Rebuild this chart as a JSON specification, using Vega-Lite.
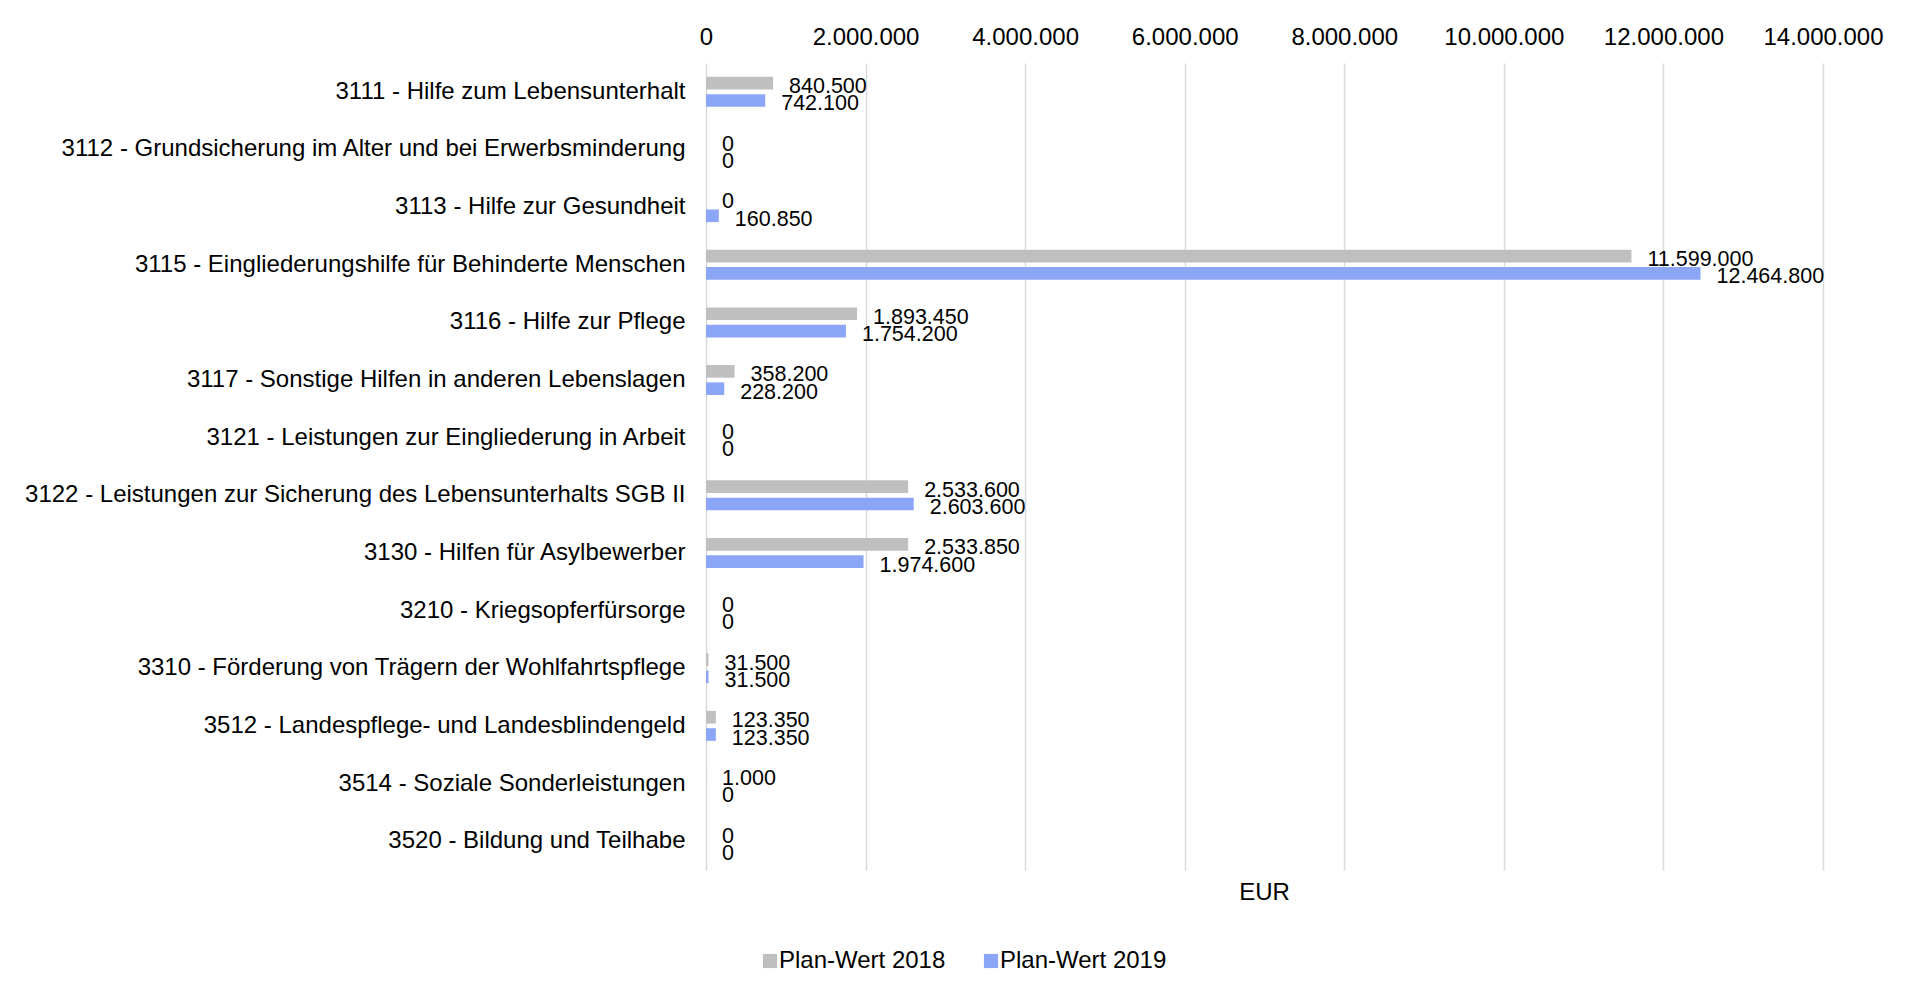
{
  "$schema": "https://vega.github.io/schema/vega-lite/v6.json",
  "width": 1117,
  "height": 807,
  "autosize": {"type": "none"},
  "padding": {"left": 706, "top": 63, "right": 89, "bottom": 120},
  "background": "white",
  "title": {"text": "EUR", "orient": "bottom", "anchor": "middle", "frame": "group", "fontSize": 24, "fontWeight": "normal", "font": "Liberation Sans", "color": "#000000", "offset": -92},
  "config": {
    "locale": {"number": {"decimal": ",", "thousands": ".", "grouping": [3], "currency": ["", " €"]}},
    "view": {"stroke": null},
    "font": "Liberation Sans"
  },
  "data": {
    "values": [
      {"kategorie": "3111 - Hilfe zum Lebensunterhalt", "serie": "Plan-Wert 2018", "wert": 840500},
      {"kategorie": "3111 - Hilfe zum Lebensunterhalt", "serie": "Plan-Wert 2019", "wert": 742100},
      {"kategorie": "3112 - Grundsicherung im Alter und bei Erwerbsminderung", "serie": "Plan-Wert 2018", "wert": 0},
      {"kategorie": "3112 - Grundsicherung im Alter und bei Erwerbsminderung", "serie": "Plan-Wert 2019", "wert": 0},
      {"kategorie": "3113 - Hilfe zur Gesundheit", "serie": "Plan-Wert 2018", "wert": 0},
      {"kategorie": "3113 - Hilfe zur Gesundheit", "serie": "Plan-Wert 2019", "wert": 160850},
      {"kategorie": "3115 - Eingliederungshilfe für Behinderte Menschen", "serie": "Plan-Wert 2018", "wert": 11599000},
      {"kategorie": "3115 - Eingliederungshilfe für Behinderte Menschen", "serie": "Plan-Wert 2019", "wert": 12464800},
      {"kategorie": "3116 - Hilfe zur Pflege", "serie": "Plan-Wert 2018", "wert": 1893450},
      {"kategorie": "3116 - Hilfe zur Pflege", "serie": "Plan-Wert 2019", "wert": 1754200},
      {"kategorie": "3117 - Sonstige Hilfen in anderen Lebenslagen", "serie": "Plan-Wert 2018", "wert": 358200},
      {"kategorie": "3117 - Sonstige Hilfen in anderen Lebenslagen", "serie": "Plan-Wert 2019", "wert": 228200},
      {"kategorie": "3121 - Leistungen zur Eingliederung in Arbeit", "serie": "Plan-Wert 2018", "wert": 0},
      {"kategorie": "3121 - Leistungen zur Eingliederung in Arbeit", "serie": "Plan-Wert 2019", "wert": 0},
      {"kategorie": "3122 - Leistungen zur Sicherung des Lebensunterhalts SGB II", "serie": "Plan-Wert 2018", "wert": 2533600},
      {"kategorie": "3122 - Leistungen zur Sicherung des Lebensunterhalts SGB II", "serie": "Plan-Wert 2019", "wert": 2603600},
      {"kategorie": "3130 - Hilfen für Asylbewerber", "serie": "Plan-Wert 2018", "wert": 2533850},
      {"kategorie": "3130 - Hilfen für Asylbewerber", "serie": "Plan-Wert 2019", "wert": 1974600},
      {"kategorie": "3210 - Kriegsopferfürsorge", "serie": "Plan-Wert 2018", "wert": 0},
      {"kategorie": "3210 - Kriegsopferfürsorge", "serie": "Plan-Wert 2019", "wert": 0},
      {"kategorie": "3310 - Förderung von Trägern der Wohlfahrtspflege", "serie": "Plan-Wert 2018", "wert": 31500},
      {"kategorie": "3310 - Förderung von Trägern der Wohlfahrtspflege", "serie": "Plan-Wert 2019", "wert": 31500},
      {"kategorie": "3512 - Landespflege- und Landesblindengeld", "serie": "Plan-Wert 2018", "wert": 123350},
      {"kategorie": "3512 - Landespflege- und Landesblindengeld", "serie": "Plan-Wert 2019", "wert": 123350},
      {"kategorie": "3514 - Soziale Sonderleistungen", "serie": "Plan-Wert 2018", "wert": 1000},
      {"kategorie": "3514 - Soziale Sonderleistungen", "serie": "Plan-Wert 2019", "wert": 0},
      {"kategorie": "3520 - Bildung und Teilhabe", "serie": "Plan-Wert 2018", "wert": 0},
      {"kategorie": "3520 - Bildung und Teilhabe", "serie": "Plan-Wert 2019", "wert": 0}
    ]
  },
  "encoding": {
    "y": {
      "field": "kategorie", "type": "nominal", "sort": null,
      "scale": {"paddingInner": 0.48, "paddingOuter": 0.24},
      "axis": {"title": null, "domain": false, "ticks": false, "labelPadding": 21, "labelFontSize": 24, "labelColor": "#000000", "labelFont": "Liberation Sans", "labelLimit": 800}
    },
    "yOffset": {"field": "serie", "type": "nominal", "scale": {"paddingInner": 0.27, "paddingOuter": 0}},
    "x": {
      "field": "wert", "type": "quantitative",
      "scale": {"domain": [0, 14000000], "nice": false},
      "axis": {"orient": "top", "title": null, "format": ",d", "values": [0, 2000000, 4000000, 6000000, 8000000, 10000000, 12000000, 14000000], "labelOverlap": false, "domain": false, "ticks": false, "labelPadding": 14, "labelFontSize": 24, "labelColor": "#000000", "labelFont": "Liberation Sans", "grid": true, "gridColor": "#D9D9D9", "gridWidth": 1.5, "labelFlush": false}
    }
  },
  "layer": [
    {
      "mark": {"type": "bar"},
      "encoding": {
        "color": {
          "field": "serie", "type": "nominal",
          "scale": {"domain": ["Plan-Wert 2018", "Plan-Wert 2019"], "range": ["#BFBFBF", "#8CA6F7"]},
          "legend": {"title": null, "orient": "none", "direction": "horizontal", "legendX": 52, "legendY": 886, "symbolType": "square", "symbolSize": 200, "symbolStrokeWidth": 0, "labelFontSize": 24, "labelFont": "Liberation Sans", "labelColor": "#000000", "labelOffset": -3, "labelLimit": 400, "columnPadding": 33}
        }
      }
    },
    {
      "mark": {"type": "text", "align": "left", "baseline": "middle", "dx": 16, "dy": 4, "fontSize": 21.5, "font": "Liberation Sans", "color": "#000000"},
      "encoding": {
        "text": {"field": "wert", "type": "quantitative", "format": ",d"}
      }
    }
  ]
}
